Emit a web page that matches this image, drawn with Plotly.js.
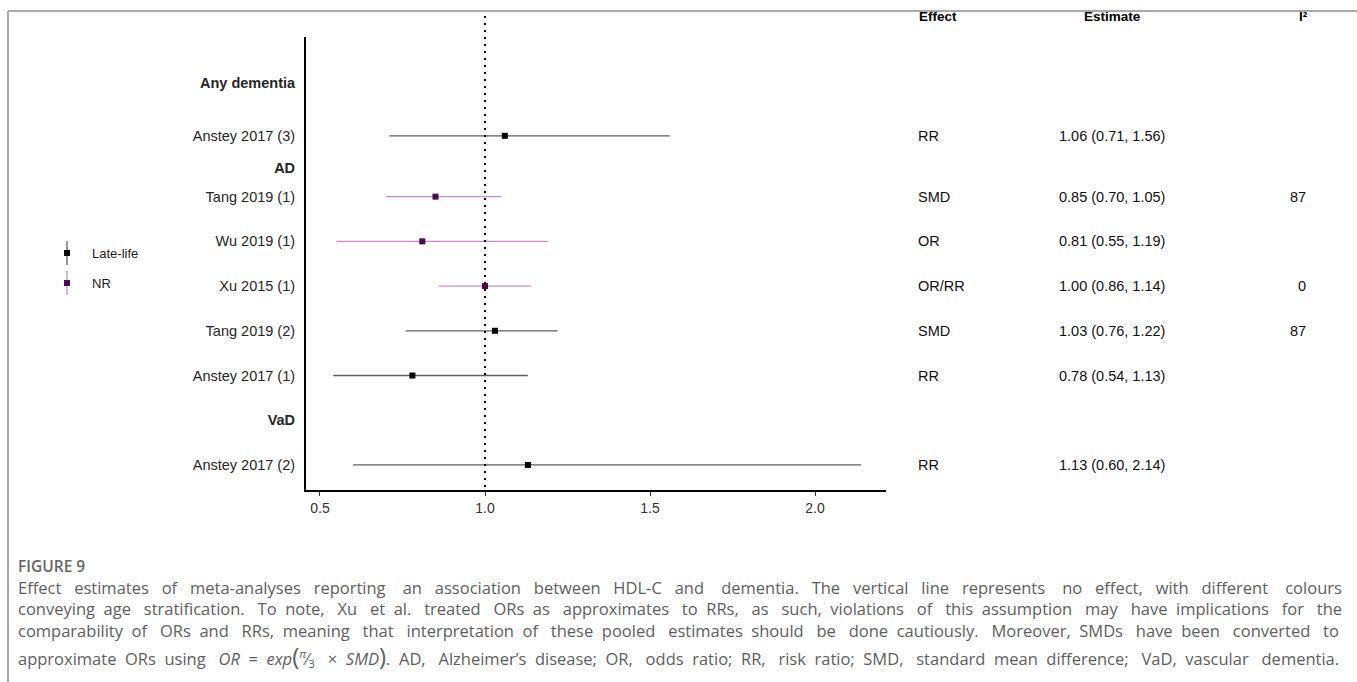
<!DOCTYPE html>
<html>
<head>
<meta charset="utf-8">
<script src="https://cdn.plot.ly/plotly-3.0.1.min.js"></script>
<style>
  html, body { margin: 0; padding: 0; background: #fff; }
  #chart { width: 1357px; height: 682px; }
</style>
</head>
<body>
<div id="chart"></div>
<script>
// ---------- data ----------
const rowLabels = ['Any dementia', 'Anstey 2017 (3)', 'AD', 'Tang 2019 (1)', 'Wu 2019 (1)',
                   'Xu 2015 (1)', 'Tang 2019 (2)', 'Anstey 2017 (1)', 'VaD', 'Anstey 2017 (2)'];
const headerRows = ['Any dementia', 'AD', 'VaD'];

const studies  = ['Anstey 2017 (3)', 'Tang 2019 (1)', 'Wu 2019 (1)', 'Xu 2015 (1)',
                  'Tang 2019 (2)', 'Anstey 2017 (1)', 'Anstey 2017 (2)'];
const estimate = [1.06, 0.85, 0.81, 1.00, 1.03, 0.78, 1.13];
const lower    = [0.71, 0.70, 0.55, 0.86, 0.76, 0.54, 0.60];
const upper    = [1.56, 1.05, 1.19, 1.14, 1.22, 1.13, 2.14];
const stratum  = ['Late-life', 'NR', 'NR', 'NR', 'Late-life', 'Late-life', 'Late-life'];
const effect   = ['RR', 'SMD', 'OR', 'OR/RR', 'SMD', 'RR', 'RR'];
const i2       = ['', '87', '', '0', '87', '', ''];
const groups   = ['Late-life', 'NR'];
const xTicks   = [0.5, 1.0, 1.5, 2.0];
const tableHeaders = ['Effect', 'Estimate', 'I²'];

const captionTitle = 'FIGURE 9';
const captionLines = [
  'Effect estimates of meta-analyses reporting an association between HDL-C and dementia. The vertical line represents no effect, with different colours',
  'conveying age stratification. To note, Xu et al. treated ORs as approximates to RRs, as such, violations of this assumption may have implications for the',
  'comparability of ORs and RRs, meaning that interpretation of these pooled estimates should be done cautiously. Moreover, SMDs have been converted to',
  'approximate ORs using <i>OR</i> = <i>exp</i><span style="font-size:24px">(</span><sup><i>π</i></sup>⁄<sub>3</sub> × <i>SMD</i><span style="font-size:24px">)</span>. AD, Alzheimer’s disease; OR, odds ratio; RR, risk ratio; SMD, standard mean difference; VaD, vascular dementia.'
];

// ---------- layout helpers (positions/styles) ----------
const W = 1357, H = 682;
const rowPos = [8.55, 7.36, 6.64, 6, 5, 4, 3, 2, 1, 0];   // vertical slot of each row
const groupColor = {
  'Late-life': { line: '#5f5f5f', marker: '#000000' },
  'NR':        { line: '#c88bc8', marker: '#4b0a4b' }
};
const px = v => v / W;
const py = v => 1 - v / H;
const yOf = name => rowPos[rowLabels.indexOf(name)];

// ---------- traces ----------
const traces = groups.map(g => {
  const idx = studies.map((s, i) => i).filter(i => stratum[i] === g);
  return {
    type: 'scatter', mode: 'markers', name: g, showlegend: false,
    x: idx.map(i => estimate[i]),
    y: idx.map(i => yOf(studies[i])),
    error_x: {
      type: 'data', symmetric: false,
      array: idx.map(i => upper[i] - estimate[i]),
      arrayminus: idx.map(i => estimate[i] - lower[i]),
      color: groupColor[g].line, thickness: 1.3, width: 0
    },
    marker: { symbol: 'square', size: 6, color: groupColor[g].marker },
    xaxis: 'x', yaxis: 'y', hoverinfo: 'skip'
  };
});

// legend drawn as a tiny subplot
groups.forEach((g, k) => {
  traces.push({
    type: 'scatter', mode: 'markers', showlegend: false,
    x: [0], y: [groups.length - 1 - k],
    error_y: { type: 'constant', value: 0.4, color: groupColor[g].line, thickness: 1.3, width: 0 },
    marker: { symbol: 'square', size: 6, color: groupColor[g].marker },
    xaxis: 'x2', yaxis: 'y2', hoverinfo: 'skip'
  });
});

// ---------- annotations ----------
const annotations = [];
const tf = { family: 'Liberation Sans, Arial, sans-serif', size: 14.5, color: '#111' };
const hf = { family: 'Liberation Sans, Arial, sans-serif', size: 13.5, color: '#000' };

annotations.push({ xref: 'paper', yref: 'paper', x: px(917), y: py(17), xanchor: 'left', yanchor: 'middle',
  text: '<b>' + tableHeaders[0] + '</b>', showarrow: false, font: hf });
annotations.push({ xref: 'paper', yref: 'paper', x: px(1112), y: py(17), xanchor: 'center', yanchor: 'middle',
  text: '<b>' + tableHeaders[1] + '</b>', showarrow: false, font: hf });
annotations.push({ xref: 'paper', yref: 'paper', x: px(1310), y: py(17), xanchor: 'right', yanchor: 'middle',
  text: '<b>' + tableHeaders[2] + '</b>', showarrow: false, font: hf });

studies.forEach((s, i) => {
  const y = yOf(s);
  annotations.push({ xref: 'paper', yref: 'y', x: px(916), y: y, xanchor: 'left', yanchor: 'middle',
    text: effect[i], showarrow: false, font: tf });
  annotations.push({ xref: 'paper', yref: 'y', x: px(1057), y: y, xanchor: 'left', yanchor: 'middle',
    text: estimate[i].toFixed(2) + ' (' + lower[i].toFixed(2) + ', ' + upper[i].toFixed(2) + ')',
    showarrow: false, font: tf });
  if (i2[i] !== '') {
    annotations.push({ xref: 'paper', yref: 'y', x: px(1308), y: y, xanchor: 'right', yanchor: 'middle',
      text: i2[i], showarrow: false, font: tf });
  }
});

const capFont = { family: 'Open Sans, sans-serif', size: 16.5, color: '#5e5e5e' };
annotations.push({ xref: 'paper', yref: 'paper', x: px(16), y: py(566), xanchor: 'left', yanchor: 'middle',
  text: captionTitle, showarrow: false,
  font: { family: 'Open Sans, sans-serif', size: 15.5, color: '#666666', weight: 600 } });
const capY = [587, 608, 630, 655];
const capIdx = [];
captionLines.forEach((t, k) => {
  capIdx.push(annotations.length);
  annotations.push({ xref: 'paper', yref: 'paper', x: px(16), y: py(capY[k]), xanchor: 'left', yanchor: 'middle',
    text: t, showarrow: false, font: capFont });
});

// ---------- layout ----------
const layout = {
  width: W, height: H,
  margin: { l: 0, r: 0, t: 0, b: 0 },
  paper_bgcolor: '#fff', plot_bgcolor: '#fff',
  showlegend: false,
  xaxis: {
    domain: [px(306), px(886)], anchor: 'y',
    range: [0.4576, 2.215], showgrid: false, zeroline: false,
    showline: true, linecolor: '#000', linewidth: 2,
    ticks: 'outside', ticklen: 4, tickcolor: '#333', tickwidth: 1,
    tickvals: xTicks, ticktext: xTicks.map(v => v.toFixed(1)),
    tickfont: { family: 'Liberation Sans, Arial, sans-serif', size: 14, color: '#333' }
  },
  yaxis: {
    domain: [py(490), py(37)], anchor: 'x',
    range: [-0.56, 9.57], showgrid: false, zeroline: false,
    showline: true, linecolor: '#000', linewidth: 2, ticks: '',
    tickvals: rowLabels.map(r => yOf(r)),
    ticktext: rowLabels.map(r => headerRows.includes(r) ? '<b>' + r + '</b>' : r),
    ticklabelstandoff: 6,
    tickfont: { family: 'Liberation Sans, Arial, sans-serif', size: 14.5, color: '#262626' }
  },
  xaxis2: {
    domain: [px(55), px(79)], anchor: 'y2', range: [-1, 1],
    showgrid: false, zeroline: false, showline: false, showticklabels: false, ticks: ''
  },
  yaxis2: {
    domain: [py(298), py(238)], anchor: 'x2', range: [-0.5, 1.5], side: 'right',
    showgrid: false, zeroline: false, showline: false, ticks: '',
    tickvals: groups.map((g, k) => groups.length - 1 - k), ticktext: groups,
    ticklabelstandoff: 12,
    tickfont: { family: 'Liberation Sans, Arial, sans-serif', size: 13, color: '#1a1a1a' }
  },
  shapes: [
    { type: 'line', xref: 'x', yref: 'paper', x0: 1, x1: 1, y0: py(487), y1: py(12),
      line: { color: '#000', width: 2, dash: '2px,5px' } },
    { type: 'line', xref: 'paper', yref: 'paper', x0: px(8), x1: 1, y0: py(11), y1: py(11),
      line: { color: '#aaaaaa', width: 2 } },
    { type: 'line', xref: 'paper', yref: 'paper', x0: px(8), x1: px(8), y0: py(11), y1: 0,
      line: { color: '#aaaaaa', width: 2 } }
  ],
  annotations: annotations
};

// justify caption lines by widening the word gaps with no-break spaces
function widenGaps(html, n) {
  const parts = html.split(/(<[^>]+>)/);
  let gaps = 0;
  parts.forEach(p => { if (!p.startsWith('<')) gaps += (p.match(/ /g) || []).length; });
  if (gaps === 0 || n <= 0) return html;
  let g = 0;
  return parts.map(p => {
    if (p.startsWith('<')) return p;
    return p.replace(/ /g, () => {
      const k = Math.floor((g + 1) * n / gaps) - Math.floor(g * n / gaps);
      g++;
      return ' ' + '\u00A0'.repeat(k);
    });
  }).join('');
}

const gd = document.getElementById('chart');
Plotly.newPlot(gd, traces, layout, { displayModeBar: false, staticPlot: true }).then(() => {
  const canvas = document.createElement('canvas');
  const ctx = canvas.getContext('2d');
  ctx.font = capFont.size + 'px "Open Sans"';
  const nb = ctx.measureText('\u00A0').width || capFont.size * 0.26;
  const target = 1339 - 16;
  const upd = {};
  capIdx.forEach((ai, k) => {
    const node = gd.querySelector('.annotation[data-index="' + ai + '"] text');
    if (!node) return;
    const w = node.getBBox().width;
    const n = Math.round((target - w) / nb);
    if (n > 0) upd['annotations[' + ai + '].text'] = widenGaps(captionLines[k], n);
  });
  return Plotly.relayout(gd, upd);
});
</script>
</body>
</html>
